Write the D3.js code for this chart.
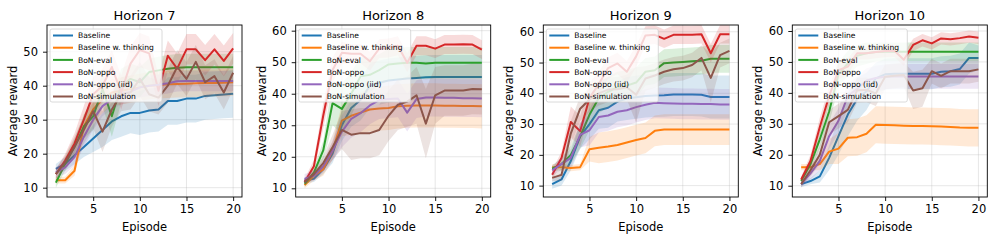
<!DOCTYPE html>
<html>
<head>
<meta charset="utf-8">
<script src="https://cdn.jsdelivr.net/npm/d3@7"></script>
<style>
  body { margin: 0; background: white; }
  svg { display: block; font-family: "DejaVu Sans", sans-serif; }
</style>
</head>
<body>
<svg id="chart"></svg>
<script>
const episodes = [1,2,3,4,5,6,7,8,9,10,11,12,13,14,15,16,17,18,19,20];
const seriesNames = ["Baseline", "Baseline w. thinking", "BoN-eval", "BoN-oppo", "BoN-oppo (iid)", "BoN-simulation"];
const colors = ["#1f77b4", "#ff7f0e", "#2ca02c", "#d62728", "#9467bd", "#8c564b"];
const titles = ["Horizon 7", "Horizon 8", "Horizon 9", "Horizon 10"];
const xTicks = [5, 10, 15, 20];
const yTicksH7 = [10, 20, 30, 40, 50];
const yTicksOther = [10, 20, 30, 40, 50, 60];

// mean reward per series (order = seriesNames)
const h7Mean = [
  [15.5,17,19.5,22,24.5,27,29.5,31,32,32,32.7,33,35.5,35.5,36.2,36.2,37,37.2,37.4,37.6],
  [12.2,12.2,15,28,33,36,38,38.5,39,39.5,40,40.2,40.4,40.5,40.6,40.7,40.8,40.8,40.9,41],
  [11.5,17,22,28,31,39,31,40,42,41,44,44.5,45,45.3,45.4,45.4,45.4,45.4,45.4,45.4],
  [14,18,23,30,37.5,40,45.5,38,46.5,50.5,49.5,38.5,48.8,45,50.7,50.7,47.5,50.7,47.3,51],
  [14.5,16,19,25,30,34,36,37.5,38.2,39.5,40,40.3,40.7,41.3,41.4,41.4,41.4,41.4,41.4,41.4],
  [14,17.5,22,27,32.5,26.5,33,37.5,38,42,37.5,36.5,40,45.5,42,47,41,42.8,38,43.8]
];
const h7Spread = [
  [1.5,2,2.5,3,4,5,5.5,6,6,6.5,6.5,6.5,7,7,7,7,7,7,7,7],
  [1,1,1.5,3.5,4,4,4,4,4,4,4,4,4,4,4,4,4,4,4,4],
  [1.5,2,2.5,3.5,4,5,6,5,4.5,4.5,4,4,4,4,4,4,4,4,4,4],
  [1.5,2,3,4,5,5,5,5,5,5,5,4.5,4.5,4.5,4.5,4.5,4.5,4.5,4.5,4.5],
  [1.5,2,2.5,3,3,3,3,3,3,3,3,3,3,3,3,3,3,3,3,3],
  [1.5,2,3,4,5,6,5,5,5,5,5,5,5,5,5,5,5,5,5,5]
];

const h8Mean = [
  [12.5,13,16,21,30,35.5,38,42.5,43.5,44.2,44.5,44.8,45,45.2,45.3,45.3,45.3,45.3,45.3,45.3],
  [11,14,16,22,31.5,33,34,35,35.3,35.5,36,36.2,36.3,36.3,36.3,36.2,36.2,36.1,36.1,36],
  [11.5,15,22,37,35.2,40,45.5,46,47.5,49.3,49.6,49.8,49.8,49.6,49.8,49.8,49.8,49.8,49.8,49.8],
  [12,17,33,47.5,53,52.7,52.7,50.3,54.3,54.5,55.2,49.8,55.2,55.2,54.3,55.6,55.6,55.7,55.6,54],
  [13,14,17,22,28,32,33.8,36.3,38,38.3,38.5,34,38.3,38.8,38.8,38.7,38.7,38.6,38.6,38.5],
  [12,14.5,18,23,28.5,27,27.5,27.5,28.5,33,36.5,37.5,39.5,30.5,39.5,41,41,41,41.5,41.4]
];
const h8Spread = [
  [1,1,1.5,3,5,6,6.5,7,7,7,7,7,7,7,7,7,7,7,7,7],
  [1,1.5,2,3,5,6,6.5,7,7,7,7,7,7,7,7,7,7,7,7,7],
  [1,1.5,3,7,8,7,6,5.5,5,5,5,5,5,5,5,5,5,5,5,5],
  [1,2,4,4,3.5,3,3,3,3,3,3,3,3,3,3,3,3,3,3,3],
  [1.5,1.5,2,3,5,6,6,6,6,6,6,6,6,6,6,6,6,6,6,6],
  [1,1.5,2,4,6,8,8,8,8,8,8,8,9,11,9,8,8,8,8,8]
];

const h9Mean = [
  [10.5,12,18,26,30,34.5,35.3,37.3,38.3,38.7,39.1,39.3,39.4,39.6,39.6,39.6,39.5,38.8,38.8,38.8],
  [16,16,15.7,16,21.8,22.3,22.7,23.2,24,24.8,25.5,27.8,28.2,28.2,28.2,28.2,28.2,28.2,28.2,28.2],
  [15.5,17,20,26,33,38.5,40.5,42,42.5,43.5,47,47.5,49.8,50,50.2,50.4,50.6,51.2,51.2,51.2],
  [13.5,19,30.7,27.7,38.5,43,48.2,49.7,47,52,58.8,59,57.7,59,59,59,59.2,53,59.2,59.2],
  [15,17,19,26.5,28,32.3,32.8,34,34.5,35.5,36.3,36.9,36.8,36.7,36.6,36.6,36.5,36.5,36.4,36.4],
  [12.5,13.5,27,35,38,40,41.2,41.3,42,39.5,44.8,45.8,47,47.8,48.2,49.2,51.5,45,52.4,53.8]
];
const h9Spread = [
  [1.5,2,3,4,5,6,6.5,6.5,7,7,7,7,7,7,7,7,7,7,7,7],
  [1,1,1,1,4,5,5,5,5,5,5,5,5,5,5,5,5,5,5,5],
  [1,2,3,4,5,5,5,5,5,5,4.5,4.5,4.5,4.5,4.5,4.5,4.5,4.5,4.5,4.5],
  [1.5,2,5,5,5,4,3.5,3.5,3.5,3.5,3,3,3,3,3,3,3,3,3,3],
  [1.5,2,3,4,5,5,5,5,5,5,5,5,5,5,5,5,5,5,5,5],
  [1,2,4,4,4,4,4,4,4,9,4,4,4,4,4,4,4,8,4,4]
];

const h10Mean = [
  [10.5,11.5,13,19,26,33,38,40.5,44.7,46,46.2,46.2,46.2,46.2,46.2,46.8,47,47.7,51.3,51.3],
  [16,16,17,21,22,25.5,25.7,26.8,29.7,29.6,29.5,29.4,29.3,29.3,29.2,29.1,29,28.8,28.7,28.7],
  [11.5,17,25,34,46,49.5,52,52.8,53.2,53.3,53.3,53.3,53.3,53.3,53.3,53.3,53.3,53.3,53.3,53.3],
  [12,18,29,39,47.3,48.5,52.8,52.8,53.2,53.5,53.6,50.7,55.5,57,56,57.6,57.3,57.7,58.2,57.8],
  [10.5,14,18,26,31,39,41.3,44,44.8,45.2,45.3,45.3,45.3,45.3,45.3,45.3,45.3,45.3,45.3,45.3],
  [10.5,15,20,30.5,32.5,34.5,40.8,41,39.8,45.2,45.5,45.8,40.8,41.5,47,45.5,47,47,47,47.6]
];
const h10Spread = [
  [1,1,2,4,6,7,7,6,5,5,5,5,5,5,5,5,5,5,5,4],
  [1,1,2,4,5,6,6,6,6,6,6,6,6,6,6,6,6,6,6,6],
  [1,2,3,4,4,4,3.5,3.5,3,3,3,3,3,3,3,3,3,3,3,3],
  [1,2,3,3,3,2.5,2,2,2,2,2,2,2,2,2,2,2,2,2,2],
  [1,2,3,4,4,4,4,4,4,4,4,4,4,4,4,4,4,4,4,4],
  [1,2,3,4,4,4,4,4,4,4,4,4,6,6,4,4,4,4,4,4]
];

const panels = [
  {title: titles[0], mean: h7Mean, spread: h7Spread, yDomain: [7.26, 57.85], yTicks: yTicksH7, left: 47},
  {title: titles[1], mean: h8Mean, spread: h8Spread, yDomain: [7.24, 61.8], yTicks: yTicksOther, left: 295.7},
  {title: titles[2], mean: h9Mean, spread: h9Spread, yDomain: [6.3, 62.2], yTicks: yTicksOther, left: 543.3},
  {title: titles[3], mean: h10Mean, spread: h10Spread, yDomain: [6.35, 61.94], yTicks: yTicksOther, left: 792.3}
];

const width = 997, height = 241;
const plotW = 195, plotTop = 25, plotBottom = 197;

const svg = d3.select("#chart")
  .attr("width", width)
  .attr("height", height)
  .attr("viewBox", [0, 0, width, height]);

panels.forEach(function(p) {
  const x = d3.scaleLinear().domain([0.05, 20.95]).range([p.left, p.left + plotW]);
  const y = d3.scaleLinear().domain(p.yDomain).range([plotBottom, plotTop]);
  const g = svg.append("g");

  const clipId = "clip" + Math.round(p.left);
  g.append("clipPath").attr("id", clipId)
    .append("rect")
    .attr("x", p.left).attr("y", plotTop)
    .attr("width", plotW).attr("height", plotBottom - plotTop);

  // grid
  g.append("g")
    .selectAll("line")
    .data(xTicks)
    .join("line")
    .attr("x1", d => x(d)).attr("x2", d => x(d))
    .attr("y1", plotTop).attr("y2", plotBottom)
    .attr("stroke", "#b0b0b0").attr("stroke-opacity", 0.3).attr("stroke-width", 1);
  g.append("g")
    .selectAll("line")
    .data(p.yTicks)
    .join("line")
    .attr("y1", d => y(d)).attr("y2", d => y(d))
    .attr("x1", p.left).attr("x2", p.left + plotW)
    .attr("stroke", "#b0b0b0").attr("stroke-opacity", 0.3).attr("stroke-width", 1);

  const plot = g.append("g").attr("clip-path", "url(#" + clipId + ")");

  const area = d3.area()
    .x((d, i) => x(episodes[i]))
    .y0(d => y(d[0] - d[1]))
    .y1(d => y(d[0] + d[1]));
  const line = d3.line()
    .x((d, i) => x(episodes[i]))
    .y(d => y(d));

  p.mean.forEach(function(m, s) {
    const rows = m.map((v, i) => [v, p.spread[s][i]]);
    plot.append("path")
      .datum(rows)
      .attr("fill", colors[s])
      .attr("fill-opacity", 0.17)
      .attr("stroke", "none")
      .attr("d", area);
    plot.append("path")
      .datum(m)
      .attr("fill", "none")
      .attr("stroke", colors[s])
      .attr("stroke-width", 2)
      .attr("stroke-linejoin", "round")
      .attr("d", line);
  });

  // axes
  const xAxis = g.append("g")
    .attr("transform", "translate(0," + plotBottom + ")")
    .call(d3.axisBottom(x).tickValues(xTicks).tickSize(4).tickPadding(4));
  const yAxis = g.append("g")
    .attr("transform", "translate(" + p.left + ",0)")
    .call(d3.axisLeft(y).tickValues(p.yTicks).tickSize(4).tickPadding(5));
  [xAxis, yAxis].forEach(a => {
    a.select(".domain").remove();
    a.selectAll("text").attr("font-size", 11.5).attr("fill", "#000").attr("font-family", "DejaVu Sans");
    a.selectAll("line").attr("stroke", "#000").attr("stroke-width", 0.9);
  });

  // frame
  g.append("rect")
    .attr("x", p.left).attr("y", plotTop)
    .attr("width", plotW).attr("height", plotBottom - plotTop)
    .attr("fill", "none").attr("stroke", "#000").attr("stroke-width", 0.9);

  g.append("text")
    .attr("x", p.left + plotW / 2).attr("y", 19.5)
    .attr("text-anchor", "middle")
    .attr("font-size", 13)
    .text(p.title);

  g.append("text")
    .attr("x", p.left + plotW / 2).attr("y", 231)
    .attr("text-anchor", "middle")
    .attr("font-size", 11.5)
    .text("Episode");

  g.append("text")
    .attr("transform", "translate(" + (p.left - 30) + "," + ((plotTop + plotBottom) / 2) + ") rotate(-90)")
    .attr("text-anchor", "middle")
    .attr("font-size", 11.5)
    .text("Average reward");

  // legend
  const lg = g.append("g").attr("transform", "translate(" + (p.left + 3) + "," + (plotTop + 4) + ")");
  lg.append("rect")
    .attr("width", 112).attr("height", 73)
    .attr("rx", 2)
    .attr("fill", "white").attr("fill-opacity", 0.8)
    .attr("stroke", "#d0d0d0").attr("stroke-width", 0.8);
  seriesNames.forEach(function(name, s) {
    const yy = 6.5 + s * 12.2;
    lg.append("line")
      .attr("x1", 3).attr("x2", 23)
      .attr("y1", yy).attr("y2", yy)
      .attr("stroke", colors[s]).attr("stroke-width", 2);
    lg.append("text")
      .attr("x", 28).attr("y", yy + 2.7)
      .attr("font-size", 7.6)
      .text(name);
  });
});
</script>
</body>
</html>
